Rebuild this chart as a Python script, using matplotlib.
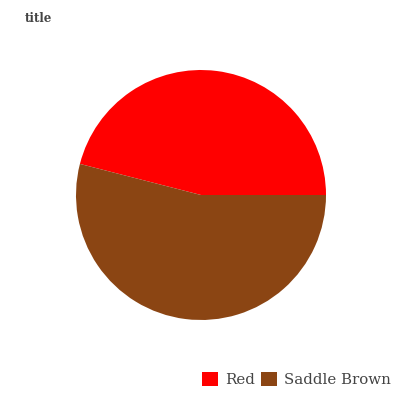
import matplotlib
matplotlib.use("Agg")
import matplotlib.pyplot as plt
from matplotlib.patches import Patch

labels = ["Red", "Saddle Brown"]
values = [46, 54]
colors = ["#FF0000", "#8B4513"]

fig = plt.figure(figsize=(4, 4), dpi=100)
ax = fig.add_axes([0.19, 0.2, 0.625, 0.625])
ax.pie(values, colors=colors, startangle=0, counterclock=True, radius=1)
ax.set_xlim(-1, 1)
ax.set_ylim(-1, 1)
ax.set_aspect("equal")
ax.axis("off")

fig.text(0.062, 0.955, "title", family="DejaVu Serif", fontweight="bold",
         fontsize=8.5, color="#444444", ha="left", va="center")

handles = [Patch(facecolor=c, edgecolor="none") for c in colors]
fig.legend(handles, labels, loc="center", bbox_to_anchor=(0.741, 0.051),
           ncol=2, frameon=False, prop={"family": "DejaVu Serif", "size": 10.8},
           handlelength=1.1, handleheight=1.1, handletextpad=0.45, columnspacing=0.4,
           labelcolor="#444444", borderpad=0)

fig.savefig("out.png", dpi=100)
